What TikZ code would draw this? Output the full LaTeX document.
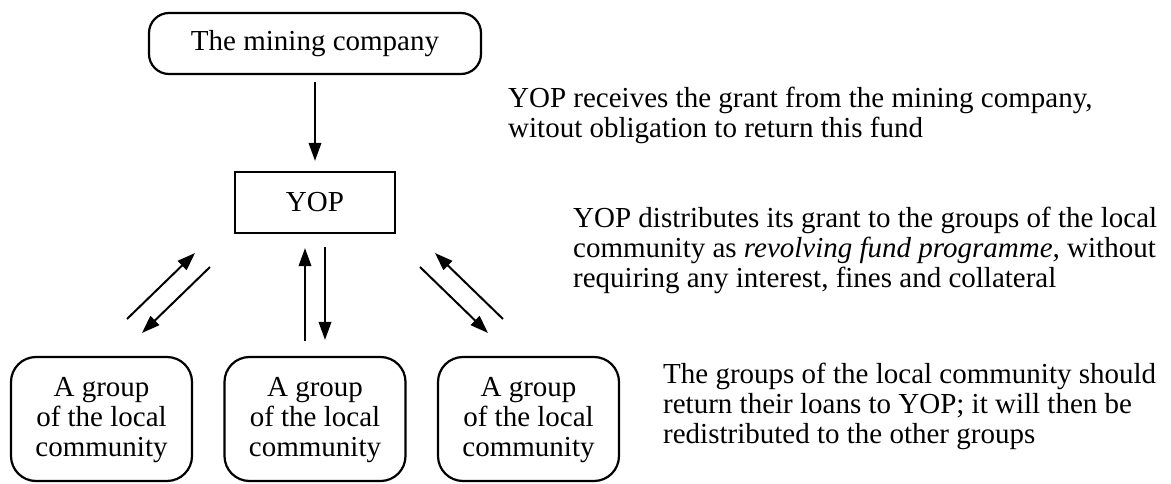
\documentclass[tikz,border=0pt]{standalone}
\usepackage{fontspec}
\setmainfont{Liberation Serif}
\usetikzlibrary{arrows.meta}
\begin{document}
\begin{tikzpicture}[x=1pt,y=-1pt,
  txt/.style={font=\fontsize{29}{30}\selectfont},
  box/.style={draw, line width=2.2pt, txt, inner sep=0pt},
  rbox/.style={box, rounded corners=20pt},
  gbox/.style={box, rounded corners=25pt, minimum width=181pt, minimum height=124pt, align=center, text depth=4pt},
  flow/.style={line width=2pt, -{Triangle[length=18pt,width=12.5pt]}},
  note/.style={txt, align=left, anchor=north west, inner sep=0pt}]
\useasboundingbox (0,0) rectangle (1171,484);

% organisations
\node[rbox, minimum width=332pt, minimum height=61pt] (mine) at (315,43.5) {The mining company};
\node[box, minimum width=160pt, minimum height=61pt] (yop) at (315,202.5) {YOP};
\node[gbox] (g1) at (101.5,419) {A group\\of the local\\community};
\node[gbox] (g2) at (315,419) {A group\\of the local\\community};
\node[gbox] (g3) at (528.5,419) {A group\\of the local\\community};

% grant from the company
\draw[flow, shorten <=7pt, shorten >=10pt] (mine) -- (yop);

% revolving fund: loans out and repayments back
\draw[flow, shorten <=15pt, shorten >=14pt] ([xshift=-10pt]g2.north) -- ([xshift=-10pt]yop.south);
\draw[flow, shorten <=13pt, shorten >=16pt] ([xshift=10pt]yop.south) -- ([xshift=10pt]g2.north);

\coordinate (l1a) at (127,319);
\coordinate (l1b) at (195,253);
\coordinate (l2a) at (210,267);
\coordinate (l2b) at (142,333);
\coordinate (r1a) at (503,319);
\coordinate (r1b) at (435,253);
\coordinate (r2a) at (420,267);
\coordinate (r2b) at (488,333);
\draw[flow] (l1a) -- (l1b);
\draw[flow] (l2a) -- (l2b);
\draw[flow] (r1a) -- (r1b);
\draw[flow] (r2a) -- (r2b);

% explanations
\node[note] (t1) at (508,87) {YOP receives the grant from the mining company,\\witout obligation to return this fund};
\node[note] (t2) at (573,207) {YOP distributes its grant to the groups of the local\\community as \textit{revolving fund programme,} without\\requiring any interest, fines and collateral};
\node[note] (t3) at (663,363) {The groups of the local community should\\return their loans to YOP; it will then be\\redistributed to the other groups};
\end{tikzpicture}
\end{document}
